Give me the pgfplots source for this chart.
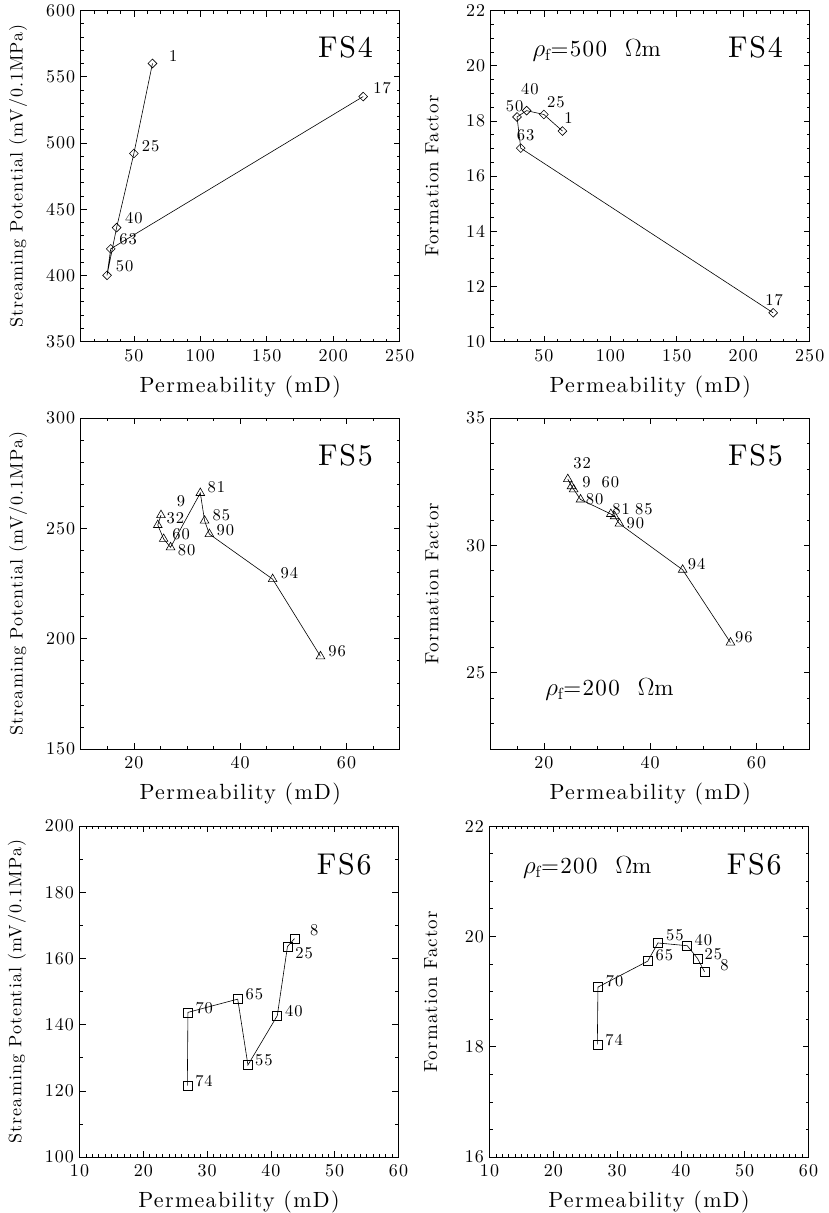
\documentclass[border=0pt]{standalone}
\usepackage{fontspec}
\setmainfont{lmroman10}[Extension=.otf, UprightFont=*-regular, BoldFont=*-bold, ItalicFont=*-italic, BoldItalicFont=*-bolditalic, LetterSpace=6]
\usepackage{pgfplots}
\pgfplotsset{compat=1.18}
\usepackage{pgfplotstable}

\pgfplotstableread{
x y lab dx dy
64 560 1 20.7 7.7
50 492 25 16.7 7.7
37 436 40 17.3 9.3
29.8 400 50 17.7 8.7
32.6 420 63 17.3 9.3
222.5 535 17 19 8.7
}\fsfourSP

\pgfplotstableread{
x y lab dx dy
64 17.63 1 6 13.3
50 18.23 25 12 12.3
37 18.37 40 3.3 21.7
29.8 18.14 50 -2.3 10.7
32.6 17.01 63 5 12.7
222.5 11.04 17 1 13
}\fsfourFF

\pgfplotstableread{
x y lab dx dy
25.1 256 9 20 14
24.5 251.5 32 17.7 7
25.6 245.2 60 17.5 5
26.9 241.4 80 16 -2.5
32.5 266 81 16 5.7
33.3 253.5 85 16.7 5.5
34.2 247.4 90 16 4
46.1 227 94 16.7 6
55.1 192 96 16.7 5
}\fsfiveSP

\pgfplotstableread{
x y lab dx dy
25.2 32.32 9 15 4
24.5 32.6 32 14.3 16
25.6 32.2 60 36.7 6.7
26.9 31.8 80 14 0
32.6 31.23 81 10.3 5
33.3 31.14 85 29.3 7.3
34.2 30.85 90 16 0
46.1 29.04 94 14 5.7
55.1 26.18 96 13.3 5
}\fsfiveFF

\pgfplotstableread{
x y lab dx dy
43.7 166.0 8 19.7 8.7
42.6 163.6 25 16.7 -7
41.0 142.7 40 16.7 5
36.4 127.8 55 16 5
34.8 147.7 65 16.7 5
27.0 143.7 70 16.3 4.3
26.9 121.6 74 16.7 4
}\fssixSP

\pgfplotstableread{
x y lab dx dy
43.7 19.36 8 20 6
42.6 19.6 25 16 4
41.0 19.83 40 16 5.5
36.4 19.88 55 17 8
34.8 19.55 65 16.7 5.7
27.0 19.08 70 16.7 6
26.9 18.04 74 16.7 4.3
}\fssixFF

\pgfplotsset{
  panel/.style={
    scale only axis, width=319pt, height=331pt, anchor=south west,
    axis line style={line width=0.9pt},
    tick align=inside, major tick length=6pt, minor tick length=3pt,
    tick style={line width=0.6pt, black},
    /pgf/number format/assume math mode=true,
    every tick label/.append style={font=\fontsize{18}{18}\selectfont},
    xticklabel style={yshift=-4pt},
    yticklabel style={xshift=-2pt},
    xlabel={Permeability (mD)},
    xlabel style={font=\fontsize{22}{22}\selectfont, at={(axis description cs:0.5,-0.137)}, anchor=center},
    scaled ticks=false,
  },
  splabel/.style={ylabel={Streaming Potential (mV/0.1MPa)},
    ylabel style={font=\fontsize{18}{18}\selectfont, at={(axis description cs:-0.196,0.5)}, anchor=center}},
  fflabel/.style={ylabel={Formation Factor},
    ylabel style={font=\fontsize{19}{19}\selectfont, at={(axis description cs:-0.184,0.5)}, anchor=center}},
  dat/.style={black, line width=0.6pt, mark options={solid, line width=0.6pt},
    point meta=explicit symbolic, nodes near coords,
    visualization depends on={\thisrow{dx}\as\dx},
    visualization depends on={\thisrow{dy}\as\dy},
    nodes near coords style={anchor=center, xshift=\dx*1pt, yshift=\dy*1pt,
      font=\fontsize{16.5}{16.5}\selectfont, text=black, inner sep=0pt}},
}
\tikzset{
  fslab/.style={font=\fontsize{30}{30}\selectfont, anchor=east},
  rholab/.style={font=\fontsize{23}{23}\selectfont, anchor=west},
}

\begin{document}
\begin{tikzpicture}
\path[use as bounding box] (0pt,0pt) rectangle (828pt,-1213pt);

% FS4 streaming potential
\begin{axis}[panel, splabel, at={(80.7pt,-341.5pt)},
  xmin=10, xmax=250, xtick={50,100,150,200,250}, minor xtick={10,20,...,250},
  ymin=350, ymax=600, ytick={350,400,...,600}, minor ytick={350,360,...,600}]
\addplot[dat, mark=square, mark size=3.1pt, mark options={rotate=45}] table[x=x, y=y, meta=lab] {\fsfourSP};
\node[fslab] at (axis description cs:0.927,0.888) {FS4};
\end{axis}

% FS4 formation factor
\begin{axis}[panel, fflabel, at={(490.7pt,-341.5pt)},
  xmin=10, xmax=250, xtick={50,100,150,200,250}, minor xtick={10,20,...,250},
  ymin=10, ymax=22, ytick={10,12,...,22}, minor ytick={10,10.5,...,22}]
\addplot[dat, mark=square, mark size=3.1pt, mark options={rotate=45}] table[x=x, y=y, meta=lab] {\fsfourFF};
\node[fslab] at (axis description cs:0.927,0.888) {FS4};
\node[rholab] at (axis description cs:0.12,0.88) {$\rho_{\mathrm{f}}$=500\ \ $\Omega$m};
\end{axis}

% FS5 streaming potential
\begin{axis}[panel, splabel, at={(80.7pt,-749pt)},
  xmin=10, xmax=70, xtick={20,40,60}, minor xtick={10,15,...,70},
  ymin=150, ymax=300, ytick={150,200,250,300}, minor ytick={150,160,...,300}]
\addplot[dat, mark=triangle, mark size=5pt] table[x=x, y=y, meta=lab] {\fsfiveSP};
\node[fslab] at (axis description cs:0.927,0.888) {FS5};
\end{axis}

% FS5 formation factor
\begin{axis}[panel, fflabel, at={(490.7pt,-749pt)},
  xmin=10, xmax=70, xtick={20,40,60}, minor xtick={10,15,...,70},
  ymin=22, ymax=35, ytick={25,30,35}, minor ytick={22,23,...,35}]
\addplot[dat, mark=triangle, mark size=5pt] table[x=x, y=y, meta=lab] {\fsfiveFF};
\node[fslab] at (axis description cs:0.927,0.888) {FS5};
\node[rholab] at (axis description cs:0.16,0.18) {$\rho_{\mathrm{f}}$=200\ \ $\Omega$m};
\end{axis}

% FS6 streaming potential
\begin{axis}[panel, splabel, at={(79.5pt,-1157pt)},
  xmin=10, xmax=60, xtick={10,20,...,60}, minor xtick={10,11,...,60},
  ymin=100, ymax=200, ytick={100,120,...,200}, minor ytick={100,110,...,200}]
\addplot[dat, mark=square, mark size=4.5pt] table[x=x, y=y, meta=lab] {\fssixSP};
\node[fslab] at (axis description cs:0.927,0.885) {FS6};
\end{axis}

% FS6 formation factor
\begin{axis}[panel, fflabel, at={(489.5pt,-1157pt)},
  xmin=10, xmax=60, xtick={10,20,...,60}, minor xtick={10,11,...,60},
  ymin=16, ymax=22, ytick={16,18,20,22}, minor ytick={16,16.5,...,22}]
\addplot[dat, mark=square, mark size=4.5pt] table[x=x, y=y, meta=lab] {\fssixFF};
\node[fslab] at (axis description cs:0.927,0.885) {FS6};
\node[rholab] at (axis description cs:0.094,0.874) {$\rho_{\mathrm{f}}$=200\ \ $\Omega$m};
\end{axis}
\end{tikzpicture}
\end{document}
